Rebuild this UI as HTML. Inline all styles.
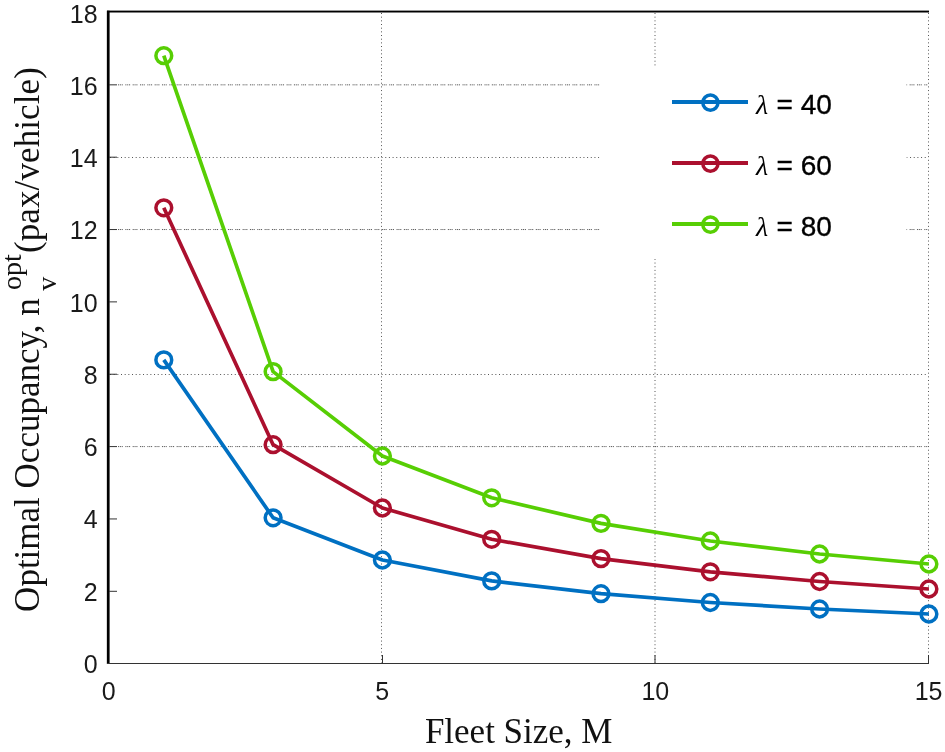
<!DOCTYPE html>
<html><head><meta charset="utf-8"><title>Optimal Occupancy vs Fleet Size</title>
<style>
html,body{margin:0;padding:0;background:#fff;}
body{width:945px;height:752px;overflow:hidden;position:relative;}
svg{position:absolute;left:0;top:0;display:block;}
.tick{font-family:"Liberation Sans",sans-serif;font-size:25px;fill:#1a1a1a;}
.ttl{font-family:"Liberation Serif",serif;font-size:35px;fill:#111;}
.ttl.sub{font-size:28px;}
.leg{font-family:"Liberation Sans",sans-serif;font-size:28px;fill:#000;stroke:#000;stroke-width:0.35px;}
.lam{font-family:"Liberation Serif","DejaVu Serif",serif;font-style:italic;font-size:28px;fill:#000;}
</style></head><body>
<svg width="945" height="752" viewBox="0 0 945 752">
<rect x="0" y="0" width="945" height="752" fill="#ffffff"/>

<g stroke-width="1" fill="none">
<line x1="381.5" y1="13" x2="381.5" y2="663" stroke="#555" stroke-dasharray="1 2.67"/>
<line x1="655.0" y1="13" x2="655.0" y2="663" stroke="#555" stroke-dasharray="1 2.67"/>
<line x1="928.5" y1="13" x2="928.5" y2="663" stroke="#555" stroke-dasharray="1 2.67"/>
<line x1="118" y1="84.83" x2="928" y2="84.83" stroke="#5a5a5a" stroke-dasharray="1.1 0.75 1.1 0.75 1.1 2.53"/>
<line x1="110" y1="157.5" x2="928" y2="157.5" stroke="#555" stroke-dasharray="1 2.67"/>
<line x1="118" y1="229.54" x2="928" y2="229.54" stroke="#5a5a5a" stroke-dasharray="1.1 0.75 1.1 0.75 1.1 2.53"/>
<line x1="110" y1="374.5" x2="928" y2="374.5" stroke="#555" stroke-dasharray="1 2.67"/>
<line x1="118" y1="446.59" x2="928" y2="446.59" stroke="#5a5a5a" stroke-dasharray="1.1 0.75 1.1 0.75 1.1 2.53"/>
</g>
<polyline fill="none" stroke="#0070C2" stroke-width="3.7" stroke-linejoin="round" points="163.8,359.9 273.1,517.8 382.4,560.0 491.7,580.9 601.0,593.7 710.3,602.5 819.6,609.0 928.9,614.0"/>
<circle cx="163.8" cy="359.9" r="7.9" fill="none" stroke="#0070C2" stroke-width="3.5"/>
<circle cx="273.1" cy="517.8" r="7.9" fill="none" stroke="#0070C2" stroke-width="3.5"/>
<circle cx="382.4" cy="560.0" r="7.9" fill="none" stroke="#0070C2" stroke-width="3.5"/>
<circle cx="491.7" cy="580.9" r="7.9" fill="none" stroke="#0070C2" stroke-width="3.5"/>
<circle cx="601.0" cy="593.7" r="7.9" fill="none" stroke="#0070C2" stroke-width="3.5"/>
<circle cx="710.3" cy="602.5" r="7.9" fill="none" stroke="#0070C2" stroke-width="3.5"/>
<circle cx="819.6" cy="609.0" r="7.9" fill="none" stroke="#0070C2" stroke-width="3.5"/>
<circle cx="928.9" cy="614.0" r="7.9" fill="none" stroke="#0070C2" stroke-width="3.5"/>
<polyline fill="none" stroke="#AB102E" stroke-width="3.7" stroke-linejoin="round" points="163.8,207.8 273.1,444.7 382.4,508.0 491.7,539.3 601.0,558.6 710.3,571.8 819.6,581.5 928.9,589.0"/>
<circle cx="163.8" cy="207.8" r="7.9" fill="none" stroke="#AB102E" stroke-width="3.5"/>
<circle cx="273.1" cy="444.7" r="7.9" fill="none" stroke="#AB102E" stroke-width="3.5"/>
<circle cx="382.4" cy="508.0" r="7.9" fill="none" stroke="#AB102E" stroke-width="3.5"/>
<circle cx="491.7" cy="539.3" r="7.9" fill="none" stroke="#AB102E" stroke-width="3.5"/>
<circle cx="601.0" cy="558.6" r="7.9" fill="none" stroke="#AB102E" stroke-width="3.5"/>
<circle cx="710.3" cy="571.8" r="7.9" fill="none" stroke="#AB102E" stroke-width="3.5"/>
<circle cx="819.6" cy="581.5" r="7.9" fill="none" stroke="#AB102E" stroke-width="3.5"/>
<circle cx="928.9" cy="589.0" r="7.9" fill="none" stroke="#AB102E" stroke-width="3.5"/>
<polyline fill="none" stroke="#57CE04" stroke-width="3.7" stroke-linejoin="round" points="163.8,55.7 273.1,371.6 382.4,456.0 491.7,497.8 601.0,523.4 710.3,541.0 819.6,554.0 928.9,564.0"/>
<circle cx="163.8" cy="55.7" r="7.9" fill="none" stroke="#57CE04" stroke-width="3.5"/>
<circle cx="273.1" cy="371.6" r="7.9" fill="none" stroke="#57CE04" stroke-width="3.5"/>
<circle cx="382.4" cy="456.0" r="7.9" fill="none" stroke="#57CE04" stroke-width="3.5"/>
<circle cx="491.7" cy="497.8" r="7.9" fill="none" stroke="#57CE04" stroke-width="3.5"/>
<circle cx="601.0" cy="523.4" r="7.9" fill="none" stroke="#57CE04" stroke-width="3.5"/>
<circle cx="710.3" cy="541.0" r="7.9" fill="none" stroke="#57CE04" stroke-width="3.5"/>
<circle cx="819.6" cy="554.0" r="7.9" fill="none" stroke="#57CE04" stroke-width="3.5"/>
<circle cx="928.9" cy="564.0" r="7.9" fill="none" stroke="#57CE04" stroke-width="3.5"/>
<rect x="599.5" y="66" width="307" height="193" fill="#fff"/>
<rect x="106.85" y="10.7" width="2.75" height="653.3" fill="#000"/>
<rect x="107" y="10.6" width="822" height="1.9" fill="#000"/>
<rect x="107" y="663" width="822" height="1" fill="#333"/>
<g stroke="#333" stroke-width="1">
<line x1="382.5" y1="655" x2="382.5" y2="663"/>
<line x1="655.0" y1="655" x2="655.0" y2="663"/>
<line x1="928.5" y1="655" x2="928.5" y2="663"/>
<line x1="109" y1="591.3" x2="117" y2="591.3"/>
<line x1="109" y1="518.95" x2="117" y2="518.95"/>
<line x1="109" y1="446.59" x2="117" y2="446.59"/>
<line x1="109" y1="374.24" x2="117" y2="374.24"/>
<line x1="109" y1="301.89" x2="117" y2="301.89"/>
<line x1="109" y1="229.54" x2="117" y2="229.54"/>
<line x1="109" y1="157.19" x2="117" y2="157.19"/>
<line x1="109" y1="84.83" x2="117" y2="84.83"/>
</g>
<line x1="672" y1="101.9" x2="748" y2="101.9" stroke="#0070C2" stroke-width="4"/>
<circle cx="710.4" cy="102.6" r="7.6" fill="none" stroke="#0070C2" stroke-width="3.5"/>
<text class="lam" x="756" y="114.3">λ</text>
<text class="leg" x="776.6" y="113.5">= 40</text>
<line x1="672" y1="162.9" x2="748" y2="162.9" stroke="#AB102E" stroke-width="4"/>
<circle cx="710.4" cy="163.6" r="7.6" fill="none" stroke="#AB102E" stroke-width="3.5"/>
<text class="lam" x="756" y="175.3">λ</text>
<text class="leg" x="776.6" y="174.5">= 60</text>
<line x1="672" y1="223.9" x2="748" y2="223.9" stroke="#57CE04" stroke-width="4"/>
<circle cx="710.4" cy="224.6" r="7.6" fill="none" stroke="#57CE04" stroke-width="3.5"/>
<text class="lam" x="756" y="236.3">λ</text>
<text class="leg" x="776.6" y="235.5">= 80</text>
<text class="tick" text-anchor="middle" x="108.8" y="700">0</text>
<text class="tick" text-anchor="middle" x="382.1" y="700">5</text>
<text class="tick" text-anchor="middle" x="655.3" y="700">10</text>
<text class="tick" text-anchor="middle" x="928.6" y="700">15</text>
<text class="tick" text-anchor="end" x="97.6" y="672.9">0</text>
<text class="tick" text-anchor="end" x="97.6" y="600.6">2</text>
<text class="tick" text-anchor="end" x="97.6" y="528.4">4</text>
<text class="tick" text-anchor="end" x="97.6" y="456.1">6</text>
<text class="tick" text-anchor="end" x="97.6" y="383.9">8</text>
<text class="tick" text-anchor="end" x="97.6" y="311.6">10</text>
<text class="tick" text-anchor="end" x="97.6" y="239.3">12</text>
<text class="tick" text-anchor="end" x="97.6" y="167.1">14</text>
<text class="tick" text-anchor="end" x="97.6" y="94.8">16</text>
<text class="tick" text-anchor="end" x="97.6" y="22.6">18</text>
<text class="ttl" text-anchor="middle" x="518.7" y="742.8">Fleet Size, M</text>
<g transform="translate(38.5,0) rotate(-90)"><text class="ttl" x="-611.9" y="0">Optimal Occupancy, n</text><text class="ttl sub" x="-290.7" y="17.3">v</text><text class="ttl sub" x="-290.1" y="-17.2">opt</text><text class="ttl" x="-253" y="0" letter-spacing="0.1">(pax/vehicle)</text></g>
</svg></body></html>
